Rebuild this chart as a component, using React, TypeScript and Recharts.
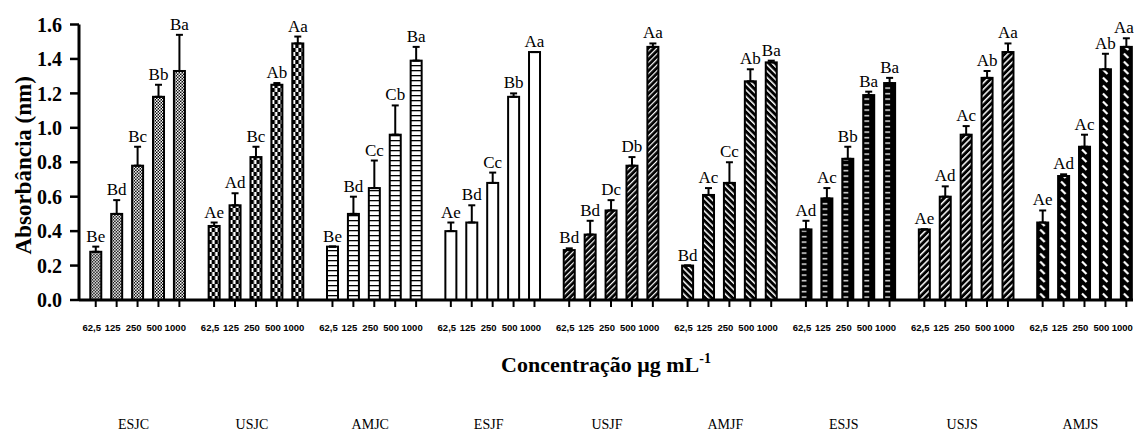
import React from 'react';
import { BarChart, Bar, XAxis, YAxis, ErrorBar, LabelList, Label } from 'recharts';

const groups = ['ESJC', 'USJC', 'AMJC', 'ESJF', 'USJF', 'AMJF', 'ESJS', 'USJS', 'AMJS'];
const concentrations = ['62,5', '125', '250', '500', '1000'];
const yTicks = [0, 0.2, 0.4, 0.6, 0.8, 1.0, 1.2, 1.4, 1.6];

const means: number[][] = [
  [0.28, 0.50, 0.78, 1.18, 1.33],
  [0.43, 0.55, 0.83, 1.25, 1.49],
  [0.31, 0.50, 0.65, 0.96, 1.39],
  [0.40, 0.45, 0.68, 1.18, 1.44],
  [0.29, 0.38, 0.52, 0.78, 1.47],
  [0.20, 0.61, 0.68, 1.27, 1.38],
  [0.41, 0.59, 0.82, 1.19, 1.26],
  [0.41, 0.60, 0.96, 1.29, 1.44],
  [0.45, 0.72, 0.89, 1.34, 1.47],
];

const errors: number[][] = [
  [0.03, 0.08, 0.11, 0.07, 0.21],
  [0.02, 0.07, 0.06, 0.01, 0.04],
  [0.0, 0.10, 0.16, 0.17, 0.08],
  [0.05, 0.10, 0.06, 0.02, 0.0],
  [0.01, 0.08, 0.06, 0.05, 0.02],
  [0.0, 0.04, 0.12, 0.07, 0.01],
  [0.05, 0.06, 0.07, 0.02, 0.03],
  [0.0, 0.06, 0.05, 0.04, 0.05],
  [0.07, 0.01, 0.07, 0.09, 0.05],
];

const letters: string[][] = [
  ['Be', 'Bd', 'Bc', 'Bb', 'Ba'],
  ['Ae', 'Ad', 'Bc', 'Ab', 'Aa'],
  ['Be', 'Bd', 'Cc', 'Cb', 'Ba'],
  ['Ae', 'Bd', 'Cc', 'Bb', 'Aa'],
  ['Bd', 'Bd', 'Dc', 'Db', 'Aa'],
  ['Bd', 'Ac', 'Cc', 'Ab', 'Ba'],
  ['Ad', 'Ac', 'Bb', 'Ba', 'Ba'],
  ['Ae', 'Ad', 'Ac', 'Ab', 'Aa'],
  ['Ae', 'Ad', 'Ac', 'Ab', 'Aa'],
];

const GROUP_STEP = 5.66;
const CHART_W = 1134;

const data = groups.flatMap((g, gi) =>
  concentrations.map((c, ci) => ({
    id: String(gi * concentrations.length + ci),
    x: gi * GROUP_STEP + ci,
    value: means[gi][ci],
    err: [0, errors[gi][ci]],
    letter: letters[gi][ci],
    group: gi,
    conc: c,
  }))
);
const xTicks = data.map((d) => d.x);

const SERIF = "'Liberation Serif', 'Times New Roman', serif";
const SANS = "'Liberation Sans', Arial, sans-serif";

const PatternBar = (props: any) => {
  const { x, y, width, height, index, payload } = props;
  if (!height || height <= 0) return null;
  const gi = payload && payload.group !== undefined ? payload.group : Math.floor(index / 5);
  return (
    <g transform={`translate(${x},${y + height})`}>
      <rect x={0} y={-height} width={width} height={height} fill={`url(#pat${gi})`} stroke="#000" strokeWidth={2} />
    </g>
  );
};

const BarLetter = (props: any) => {
  const vb = props.viewBox || props;
  const d = data[Number(props.value)];
  if (!d || !vb) return null;
  const { x, y, width, height } = vb;
  const pxPerUnit = height / d.value;
  const top = y - d.err[1] * pxPerUnit;
  const cx = Math.min(x + width / 2, CHART_W - 10);
  return (
    <text x={cx} y={top - 5} textAnchor="middle" fontFamily={SERIF} fontSize={17} fill="#000">
      {d.letter}
    </text>
  );
};

const ConcTick = (props: any) => {
  const X = Number(props.x);
  const Y = Number(props.y);
  const index = props.index !== undefined ? props.index : props.payload?.index;
  const ci = index % concentrations.length;
  const gi = Math.floor(index / concentrations.length);
  return (
    <g>
      <text x={X - 4} y={Y + 22} textAnchor="middle" fontFamily={SANS} fontWeight="bold" fontSize={9.5} fill="#000">
        {concentrations[ci]}
      </text>
      {ci === 2 && (
        <text x={X - 4} y={Y + 120} textAnchor="middle" fontFamily={SERIF} fontSize={14} fill="#000">
          {groups[gi]}
        </text>
      )}
    </g>
  );
};

const XTitle = (props: any) => {
  const vb = props.viewBox;
  const cx = vb.x + vb.width / 2;
  const by = vb.y + 72;
  return (
    <text x={cx} y={by} textAnchor="middle" fontFamily={SERIF} fontWeight="bold" fontSize={22} fill="#000">
      Concentração μg mL
      <tspan fontSize={14} dy={-9}>-1</tspan>
    </text>
  );
};

const YTitle = (props: any) => {
  const vb = props.viewBox;
  const tx = vb.x + 31;
  const ty = vb.y + vb.height / 2 + 3;
  return (
    <text x={tx} y={ty} transform={`rotate(-90 ${tx} ${ty})`} textAnchor="middle" fontFamily={SERIF} fontWeight="bold" fontSize={23} fill="#000">
      Absorbância (nm)
    </text>
  );
};

const YTick = (props: any) => {
  const { x, y, payload } = props;
  return (
    <text x={x} y={y} dy="0.36em" textAnchor="end" fontFamily={SERIF} fontWeight="bold" fontSize={20} fill="#000">
      {Number(payload.value).toFixed(1)}
    </text>
  );
};

export default function App() {
  return (
    <div style={{ position: 'absolute', left: 0, top: 0, background: '#fff' }}>
      <BarChart width={CHART_W} height={448} data={data} margin={{ top: 24.5, right: 1, left: 0, bottom: 0 }}>
        <defs>
          <pattern id="pat0" patternUnits="userSpaceOnUse" width={3} height={3}>
            <rect width={3} height={3} fill="#000" />
            <rect width={1.6} height={1.6} fill="#fff" />
            <rect x={1.5} y={1.5} width={1.5} height={1.5} fill="#fff" />
          </pattern>
          <pattern id="pat1" patternUnits="userSpaceOnUse" width={6} height={8}>
            <rect width={6} height={8} fill="#000" />
            <rect x={0.5} y={0} width={2.5} height={4} fill="#fff" />
            <rect x={3.5} y={4} width={2.5} height={4} fill="#fff" />
          </pattern>
          <pattern id="pat2" patternUnits="userSpaceOnUse" width={11} height={5}>
            <rect width={11} height={5} fill="#fff" />
            <rect x={0} y={0} width={11} height={1.3} fill="#000" />
          </pattern>
          <pattern id="pat3" patternUnits="userSpaceOnUse" width={11} height={5}>
            <rect width={11} height={5} fill="#fff" />
          </pattern>
          <pattern id="pat4" patternUnits="userSpaceOnUse" width={4} height={4} patternTransform="rotate(45)">
            <rect width={4} height={4} fill="#000" />
            <rect x={0} y={0} width={1.2} height={4} fill="#fff" />
          </pattern>
          <pattern id="pat5" patternUnits="userSpaceOnUse" width={4.5} height={4.5} patternTransform="rotate(-45)">
            <rect width={4.5} height={4.5} fill="#000" />
            <rect x={0} y={0} width={1.5} height={4.5} fill="#fff" />
          </pattern>
          <pattern id="pat6" patternUnits="userSpaceOnUse" width={11} height={5.5}>
            <rect width={11} height={5.5} fill="#000" />
            <rect x={1} y={2} width={5} height={1.3} fill="#fff" />
          </pattern>
          <pattern id="pat7" patternUnits="userSpaceOnUse" width={4.5} height={4.5} patternTransform="rotate(45)">
            <rect width={4.5} height={4.5} fill="#000" />
            <rect x={0} y={0} width={1.5} height={4.5} fill="#fff" />
          </pattern>
          <pattern id="pat8" patternUnits="userSpaceOnUse" width={11} height={8}>
            <rect width={11} height={8} fill="#000" />
            <line x1={3} y1={1.5} x2={7.5} y2={6} stroke="#fff" strokeWidth={2.2} />
          </pattern>
        </defs>
        <XAxis
          dataKey="x"
          type="number"
          domain={[-0.8, 49.6]}
          allowDataOverflow
          ticks={xTicks}
          interval={0}
          height={148}
          tickSize={7}
          axisLine={{ stroke: '#000', strokeWidth: 3 }}
          tickLine={{ stroke: '#000', strokeWidth: 2 }}
          tick={(p: any) => <ConcTick {...p} />}
        >
          <Label content={XTitle} />
        </XAxis>
        <YAxis
          width={79}
          domain={[0, 1.6]}
          ticks={yTicks}
          interval={0}
          allowDataOverflow
          tickSize={9}
          tickMargin={8}
          axisLine={{ stroke: '#000', strokeWidth: 3 }}
          tickLine={{ stroke: '#000', strokeWidth: 2.5 }}
          tick={<YTick />}
        >
          <Label content={YTitle} />
        </YAxis>
        <Bar dataKey="value" barSize={11} isAnimationActive={false} shape={(p: any) => <PatternBar {...p} />}>
          <ErrorBar dataKey="err" width={3.5} strokeWidth={2} stroke="#000" direction="y" />
          <LabelList dataKey="id" content={BarLetter} />
        </Bar>
      </BarChart>
    </div>
  );
}
